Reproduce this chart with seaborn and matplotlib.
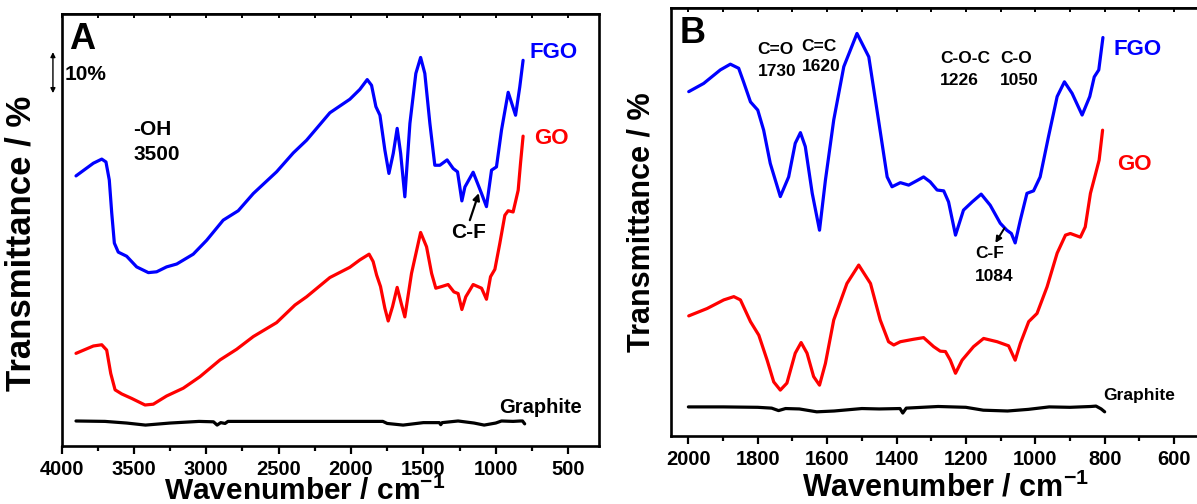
import matplotlib
matplotlib.use("Agg")
import matplotlib.pyplot as plt
import pandas as pd
import seaborn as sns

# ---------------- Panel A: 3900-800 cm-1 survey spectra ----------------
a_fgo_wn = [3900, 3780, 3722, 3693, 3670, 3653, 3635, 3608, 3550, 3481, 3400, 3343,
            3274, 3204, 3090, 2997, 2883, 2779, 2675, 2514, 2399, 2307, 2146, 2008,
            1939, 1888, 1858, 1828, 1800, 1766, 1738, 1708, 1681, 1657, 1628, 1593,
            1552, 1519, 1490, 1455, 1421, 1386, 1336, 1294, 1264, 1234, 1213, 1156,
            1098, 1064, 1029, 995, 960, 914, 863, 834, 811]
a_fgo_t = [65.9, 69.0, 70.0, 69.3, 64.9, 56.8, 49.5, 47.3, 46.3, 43.7, 42.3, 42.5,
           43.7, 44.4, 46.8, 50.2, 55.1, 57.4, 61.6, 66.9, 71.5, 74.6, 81.3, 84.6,
           87.0, 89.4, 88.0, 82.8, 80.7, 72.2, 66.5, 71.4, 77.5, 71.4, 60.8, 78.7,
           90.9, 94.8, 90.9, 78.7, 68.5, 68.5, 69.8, 67.7, 66.9, 59.8, 63.2, 66.8,
           61.6, 58.4, 67.3, 68.1, 77.1, 86.3, 80.7, 87.6, 94.1]

a_go_wn = [3900, 3780, 3722, 3688, 3660, 3630, 3584, 3515, 3423, 3366, 3274, 3159,
           3044, 2905, 2790, 2675, 2514, 2387, 2307, 2146, 2008, 1939, 1875, 1847,
           1823, 1796, 1766, 1743, 1713, 1681, 1653, 1628, 1582, 1519, 1478, 1443,
           1414, 1374, 1329, 1289, 1260, 1234, 1207, 1156, 1098, 1064, 1036, 1006,
           972, 937, 914, 880, 845, 829, 811]
a_go_t = [22.6, 24.4, 24.7, 23.4, 17.7, 13.7, 12.7, 11.6, 10.0, 10.2, 12.2, 14.1,
          16.9, 21.0, 23.6, 26.7, 30.1, 34.4, 36.4, 41.1, 43.6, 45.4, 46.8, 45.0,
          41.7, 38.9, 33.6, 30.5, 34.0, 38.7, 34.8, 31.5, 42.1, 52.1, 48.6, 42.1,
          38.5, 38.9, 39.4, 37.6, 37.2, 33.3, 36.4, 39.4, 38.5, 35.8, 41.3, 43.1,
          49.4, 56.3, 57.4, 57.1, 62.4, 68.9, 75.6]

a_gr_wn = [3900, 3700, 3550, 3420, 3250, 3050, 2950, 2925, 2900, 2870, 2850, 2500,
           2000, 1780, 1750, 1640, 1500, 1390, 1380, 1370, 1260, 1150, 1080, 1000,
           960, 880, 830, 815, 800]
a_gr_t = [6.1, 6.0, 5.6, 5.1, 5.6, 6.0, 5.9, 5.1, 5.7, 5.5, 6.0, 6.0,
          6.0, 6.0, 5.5, 5.1, 5.7, 5.7, 5.2, 5.7, 6.1, 5.6, 5.1, 5.6,
          6.1, 6.0, 6.1, 6.1, 5.4]

# ---------------- Panel B: 2000-800 cm-1 fingerprint region ----------------
b_fgo_wn = [1999, 1956, 1908, 1879, 1855, 1841, 1821, 1800, 1783, 1764, 1735, 1711,
            1692, 1677, 1663, 1643, 1622, 1605, 1581, 1552, 1514, 1480, 1452, 1427,
            1413, 1389, 1365, 1341, 1322, 1303, 1283, 1264, 1250, 1230, 1207, 1182,
            1156, 1130, 1101, 1082, 1069, 1058, 1043, 1024, 1005, 986, 962, 937,
            916, 894, 865, 843, 830, 817, 805]
b_fgo_t = [84.0, 86.0, 89.3, 90.7, 89.7, 86.4, 81.5, 79.5, 74.6, 66.5, 58.4, 63.2,
           71.4, 74.0, 70.6, 59.2, 50.2, 62.4, 77.1, 90.1, 98.2, 92.5, 77.1, 63.2,
           60.8, 61.8, 61.2, 62.3, 63.2, 62.0, 60.0, 59.8, 57.1, 49.0, 55.1, 57.1,
           59.0, 56.3, 51.9, 50.2, 49.4, 47.1, 52.7, 59.2, 59.8, 63.2, 73.0, 82.8,
           86.4, 83.6, 78.3, 82.8, 87.6, 89.3, 97.2]

b_go_wn = [1999, 1946, 1898, 1869, 1850, 1821, 1797, 1773, 1754, 1735, 1716, 1692,
           1675, 1658, 1639, 1622, 1605, 1581, 1543, 1509, 1475, 1447, 1423, 1408,
           1389, 1351, 1322, 1293, 1274, 1259, 1245, 1230, 1211, 1178, 1149, 1110,
           1077, 1058, 1043, 1019, 995, 966, 937, 913, 899, 870, 856, 841,
           827, 816, 806]
b_go_t = [29.3, 31.1, 33.2, 34.0, 33.2, 27.9, 24.6, 18.5, 13.2, 11.2, 12.9, 20.2,
          22.8, 20.2, 14.5, 12.4, 17.7, 28.3, 37.2, 41.7, 37.2, 28.3, 23.0, 22.2,
          23.0, 23.6, 24.0, 21.8, 20.7, 20.6, 18.5, 15.3, 18.5, 21.8, 23.8, 23.0,
          22.0, 18.5, 22.6, 27.9, 29.9, 36.4, 44.6, 49.0, 49.4, 48.5, 51.0, 59.2,
          63.7, 67.3, 74.6]

b_gr_wn = [2000, 1900, 1800, 1760, 1740, 1720, 1680, 1630, 1580, 1500, 1450, 1390,
           1382, 1372, 1280, 1200, 1150, 1080, 1020, 960, 900, 840, 825, 810, 800]
b_gr_t = [7.1, 7.1, 7.0, 6.8, 6.2, 6.7, 6.6, 5.9, 6.1, 6.7, 6.6, 6.7,
          5.6, 6.8, 7.2, 7.0, 6.3, 6.1, 6.5, 7.1, 7.0, 7.2, 7.3, 6.6, 5.9]

samples = ["FGO", "GO", "Graphite"]
palette = {"FGO": "#0000ff", "GO": "#ff0000", "Graphite": "#000000"}
scale_bar = 10  # % transmittance


def spectra_frame(series):
    frames = [pd.DataFrame({"wavenumber": wn, "transmittance": t, "sample": name})
              for name, wn, t in series]
    return pd.concat(frames, ignore_index=True)


df_a = spectra_frame(zip(samples, [a_fgo_wn, a_go_wn, a_gr_wn], [a_fgo_t, a_go_t, a_gr_t]))
df_b = spectra_frame(zip(samples, [b_fgo_wn, b_go_wn, b_gr_wn], [b_fgo_t, b_go_t, b_gr_t]))

sns.set_theme(style="ticks")
plt.rcParams["font.family"] = ["Liberation Sans", "DejaVu Sans"]
plt.rcParams["font.weight"] = "bold"
plt.rcParams["axes.labelweight"] = "bold"
plt.rcParams["mathtext.default"] = "regular"
plt.rcParams["text.color"] = "black"
plt.rcParams["axes.labelcolor"] = "black"
plt.rcParams["xtick.color"] = "black"
plt.rcParams["ytick.color"] = "black"
plt.rcParams["axes.edgecolor"] = "black"

fig = plt.figure(figsize=(11.97, 5.04), dpi=100)
ax_a = fig.add_axes([0.0514, 0.1151, 0.4486, 0.8571])
ax_b = fig.add_axes([0.5606, 0.1349, 0.4637, 0.8492])

for ax, df in ((ax_a, df_a), (ax_b, df_b)):
    sns.lineplot(data=df, x="wavenumber", y="transmittance", hue="sample",
                 palette=palette, sort=False, estimator=None, linewidth=2.3,
                 legend=False, ax=ax)
    for sp in ax.spines.values():
        sp.set_visible(True)
        sp.set_color("black")
        sp.set_linewidth(1.9)
    ax.set_yticks([])
    ax.tick_params(axis="x", which="major", direction="out", length=6, width=1.6,
                   labelsize=14.5, pad=4, color="black", labelcolor="black")
    ax.tick_params(axis="x", which="minor", direction="out", length=3.5, width=1.6,
                   color="black")
    for lab in ax.get_xticklabels():
        lab.set_fontweight("bold")

# Panel A axes
ax_a.set_xlim(4000, 290)
ax_a.set_ylim(0, 105.4)
ax_a.set_xticks([4000, 3500, 3000, 2500, 2000, 1500, 1000, 500])
ax_a.set_xticks(range(3750, 250, -500), minor=True)
ax_a.set_xlabel("Wavenumber / cm$^{-1}$", fontsize=21.5, fontweight="bold")
ax_a.set_ylabel("Transmittance / %", fontsize=25, fontweight="bold")
ax_a.xaxis.set_label_coords(0.453, -0.071)
ax_a.yaxis.set_label_coords(-0.044, 0.468)
top_a = ax_a.secondary_xaxis("top")
top_a.set_xticks(range(4000, 250, -250))
top_a.tick_params(direction="in", length=3, width=1.4, labeltop=False, color="black")

# Panel B axes
ax_b.set_xlim(2050, 450)
ax_b.set_ylim(0, 104.4)
ax_b.set_xticks([2000, 1800, 1600, 1400, 1200, 1000, 800, 600])
ax_b.set_xticks(range(1900, 450, -200), minor=True)
ax_b.set_xlabel("Wavenumber / cm$^{-1}$", fontsize=22, fontweight="bold")
ax_b.set_ylabel("Transmittance / %", fontsize=22, fontweight="bold")
ax_b.xaxis.set_label_coords(0.495, -0.084)
ax_b.yaxis.set_label_coords(-0.027, 0.5)
top_b = ax_b.secondary_xaxis("top")
top_b.set_xticks(range(2000, 450, -100))
top_b.tick_params(direction="in", length=3, width=1.4, labeltop=False, color="black")

# Panel letters
ax_a.text(0.038, 0.94, "A", transform=ax_a.transAxes, fontsize=26,
          fontweight="bold", ha="center", va="center")
ax_b.text(0.038, 0.94, "B", transform=ax_b.transAxes, fontsize=26,
          fontweight="bold", ha="center", va="center")

# 10 % scale bar next to panel A
bar_top = 96.1
ax_a.annotate("", xy=(-0.016, bar_top), xytext=(-0.016, bar_top - scale_bar),
              xycoords=ax_a.get_yaxis_transform(), textcoords=ax_a.get_yaxis_transform(),
              arrowprops=dict(arrowstyle="<|-|>", lw=1.0, color="black",
                              mutation_scale=7, shrinkA=0, shrinkB=0),
              annotation_clip=False)
ax_a.text(0.0456, bar_top - scale_bar / 2 - 0.5, f"{scale_bar}%",
          transform=ax_a.get_yaxis_transform(), fontsize=15, fontweight="bold",
          ha="center", va="center")

# Panel A annotations
ax_a.text(3506, 77.1, "-OH", fontsize=15, fontweight="bold", ha="left", va="center")
ax_a.text(3506, 71.0, "3500", fontsize=15, fontweight="bold", ha="left", va="center")
ax_a.text(765, 95.9, "FGO", color=palette["FGO"], fontsize=16, fontweight="bold",
          ha="left", va="center")
ax_a.text(737, 75.1, "GO", color=palette["GO"], fontsize=16, fontweight="bold",
          ha="left", va="center")
ax_a.text(689, 9.3, "Graphite", fontsize=14.5, fontweight="bold", ha="center", va="center")
ax_a.text(1186, 52.0, "C-F", fontsize=15, fontweight="bold", ha="center", va="center")
ax_a.annotate("", xy=(1117, 61.7), xytext=(1179, 55.1),
              arrowprops=dict(arrowstyle="-|>", lw=1.6, color="black",
                              mutation_scale=10, shrinkA=0, shrinkB=0))

# Panel B annotations
for wn, y1, y2, top_txt, bot_txt in [(1801, 94.4, 88.8, "C=O", "1730"),
                                      (1674, 95.1, 90.2, "C=C", "1620"),
                                      (1274, 92.2, 86.6, "C-O-C", "1226"),
                                      (1101, 92.2, 86.6, "C-O", "1050")]:
    ax_b.text(wn, y1, top_txt, fontsize=12.5, fontweight="bold", ha="left", va="center")
    ax_b.text(wn, y2, bot_txt, fontsize=12.5, fontweight="bold", ha="left", va="center")
ax_b.text(1173, 44.6, "C-F", fontsize=12.5, fontweight="bold", ha="left", va="center")
ax_b.text(1175, 38.8, "1084", fontsize=12.5, fontweight="bold", ha="left", va="center")
ax_b.annotate("", xy=(1115, 47.1), xytext=(1089, 50.7),
              arrowprops=dict(arrowstyle="-|>", lw=1.4, color="black",
                              mutation_scale=9, shrinkA=0, shrinkB=0))
ax_b.text(775, 94.4, "FGO", color=palette["FGO"], fontsize=16, fontweight="bold",
          ha="left", va="center")
ax_b.text(764, 66.3, "GO", color=palette["GO"], fontsize=16, fontweight="bold",
          ha="left", va="center")
ax_b.text(804, 9.8, "Graphite", fontsize=12.5, fontweight="bold", ha="left", va="center")

fig.savefig("out.png", dpi=100, facecolor="white")
